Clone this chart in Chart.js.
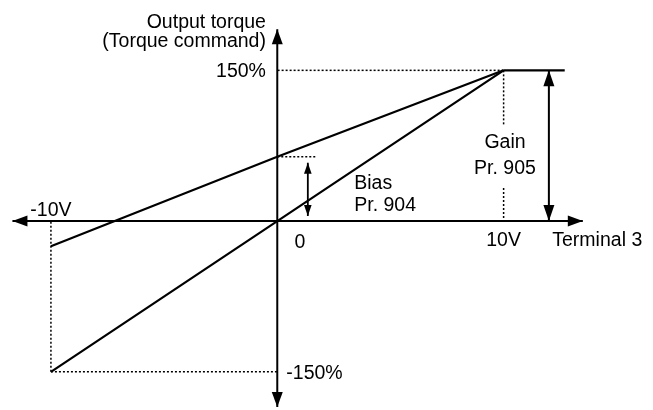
<!DOCTYPE html>
<html>
<head>
<meta charset="utf-8">
<script src="https://cdn.jsdelivr.net/npm/chart.js@4"></script>
<style>
  html, body { margin: 0; padding: 0; background: #fff; }
  canvas { display: block; }
</style>
</head>
<body>
<canvas id="myChart" width="653" height="410"></canvas>
<script>
// terminal 3 voltage (V) and output torque (%)
const voltage = [-10, 0, 10]
const torqueGain = [-150, 0, 150]
const torqueBias = [-25, 64, 150]
const limitVoltage = [10, 12.7]
const limitTorque = [150, 150]

// axis extents (arrow tips)
const xAxisEnds = [-11.7, 13.5]
const yAxisEnds = [-185, 191]

// bias / gain adjustment arrows
const biasArrowX = 1.35
const biasArrowY = [58, 5]
const gainArrowX = 12
const gainArrowY = [150, 0]

const tickLabels = ['-10V', '0', '10V']
const torqueLabels = ['150%', '-150%']

let ctx = document.querySelector('#myChart')

const black = '#000'
const FONT = '19.5px "Liberation Sans", Arial, sans-serif'

function pts(xs, ys) {
    return xs.map((x, i) => ({ x: x, y: ys[i] }))
}

function solid(data, width, arrows) {
    return { data: data, borderColor: black, borderWidth: width, pointRadius: 0, fill: false, tension: 0, arrows: arrows }
}

function dotted(data) {
    return { data: data, borderColor: black, borderWidth: 1.5, borderDash: [2, 2], pointRadius: 0, fill: false, tension: 0 }
}

// labels placed in data coordinates
let labels = [
    { text: 'Output torque', x: -0.5, y: 192, align: 'right' },
    { text: '(Torque command)', x: -0.5, y: 173, align: 'right' },
    { text: torqueLabels[0], x: -0.5, y: 143, align: 'right' },
    { text: torqueLabels[1], x: 0.4, y: -157, align: 'left' },
    { text: tickLabels[0], x: voltage[0], y: 5, align: 'center' },
    { text: tickLabels[1], x: 1.0, y: -27, align: 'center' },
    { text: tickLabels[2], x: voltage[2], y: -25, align: 'center' },
    { text: 'Terminal 3', x: 12.15, y: -25, align: 'left' },
    { text: 'Bias', x: 3.4, y: 32, align: 'left' },
    { text: 'Pr. 904', x: 3.4, y: 10, align: 'left' },
    { text: 'Gain', x: 10.06, y: 73, align: 'center' },
    { text: 'Pr. 905', x: 10.06, y: 47, align: 'center' }
]

const arrowPlugin = {
    id: 'arrowsAndText',
    afterDatasetsDraw(chart) {
        let c = chart.ctx
        c.save()
        c.fillStyle = black
        chart.data.datasets.forEach((ds, i) => {
            if (!ds.arrows) return
            let pts = chart.getDatasetMeta(i).data
            let n = pts.length
            let len = ds.arrows.len, half = ds.arrows.half
            let ends = []
            if (ds.arrows.end) ends.push([pts[n - 1], pts[n - 2]])
            if (ds.arrows.start) ends.push([pts[0], pts[1]])
            ends.forEach(([tip, from]) => {
                let a = Math.atan2(tip.y - from.y, tip.x - from.x)
                c.beginPath()
                c.moveTo(tip.x, tip.y)
                c.lineTo(tip.x - len * Math.cos(a) + half * Math.sin(a), tip.y - len * Math.sin(a) - half * Math.cos(a))
                c.lineTo(tip.x - len * Math.cos(a) - half * Math.sin(a), tip.y - len * Math.sin(a) + half * Math.cos(a))
                c.closePath()
                c.fill()
            })
        })
        let xs = chart.scales.x, ys = chart.scales.y
        c.font = FONT
        c.textBaseline = 'alphabetic'
        labels.forEach(l => {
            c.textAlign = l.align
            c.fillText(l.text, xs.getPixelForValue(l.x), ys.getPixelForValue(l.y))
        })
        c.restore()
    }
}

let graphData = {
    type: 'line',
    data: {
        datasets: [
            // axes
            solid(pts(xAxisEnds, [0, 0]), 2, { start: true, end: true, len: 15, half: 5.5 }),
            solid(pts([0, 0], yAxisEnds), 2, { start: true, end: true, len: 15, half: 5.5 }),
            // guide lines
            dotted(pts([voltage[2], 0], [torqueGain[2], torqueGain[2]])),
            dotted(pts([voltage[2], voltage[2]], [torqueGain[2], 96])),
            dotted(pts([voltage[2], voltage[2]], [33, 0])),
            dotted(pts([voltage[0], 0], [torqueGain[0], torqueGain[0]])),
            dotted(pts([voltage[0], voltage[0]], [torqueGain[0], 0])),
            dotted(pts([0, 1.75], [torqueBias[1], torqueBias[1]])),
            // characteristics
            solid(pts(voltage, torqueGain), 2.2),
            solid(pts(voltage, torqueBias), 2.2),
            solid(pts(limitVoltage, limitTorque), 2.2),
            // bias and gain arrows
            solid(pts([biasArrowX, biasArrowX], biasArrowY), 1.8, { start: true, end: true, len: 11, half: 3.8 }),
            solid(pts([gainArrowX, gainArrowX], gainArrowY), 2, { start: true, end: true, len: 16, half: 5.5 })
        ]
    },
    options: {
        responsive: false,
        animation: false,
        layout: { padding: 0 },
        plugins: { legend: { display: false }, tooltip: { enabled: false } },
        scales: {
            x: { type: 'linear', min: -12.25, max: 16.6, display: false },
            y: { type: 'linear', min: -188, max: 220, display: false }
        }
    },
    plugins: [arrowPlugin]
}

let myChart = new Chart(ctx, graphData)
</script>
</body>
</html>
